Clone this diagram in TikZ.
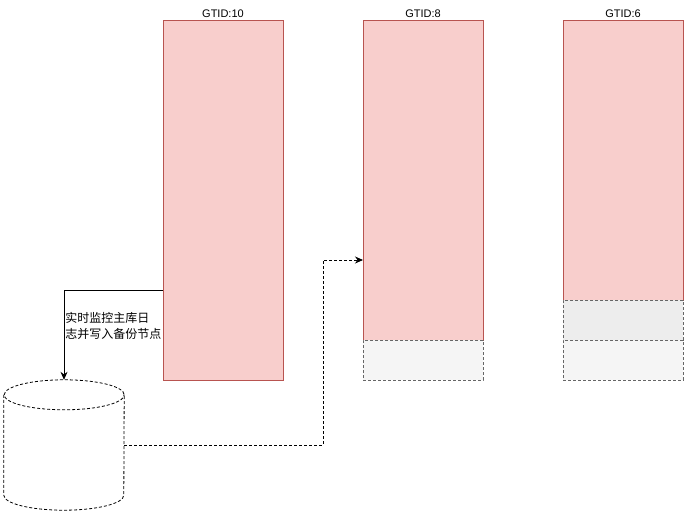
\documentclass[tikz,border=0pt]{standalone}
\usepackage{fontspec}
\setmainfont{Liberation Sans}
\newfontfamily\cjk{Noto Sans CJK SC}
\usetikzlibrary{arrows.meta,positioning}
\definecolor{barPink}{HTML}{F8CECC}
\definecolor{barRed}{HTML}{B85450}
\definecolor{slotGrey}{HTML}{F5F5F5}
\definecolor{slotDark}{HTML}{EDEDED}
\definecolor{slotLine}{HTML}{666666}
\tikzset{
  gtid/bar/.style={draw=barRed, fill=barPink, line width=0.8pt, minimum width=120pt, inner sep=0pt, outer sep=0pt, anchor=north west},
  gtid/slot/.style={draw=slotLine, fill=slotGrey, line width=0.8pt, dash pattern=on 3pt off 2pt, minimum width=120pt, minimum height=40pt, inner sep=0pt, outer sep=0pt},
  gtid/title/.style={font=\fontsize{11}{13}\selectfont, inner sep=1pt},
  gtid/db/.style={minimum width=120pt, minimum height=130pt, inner sep=0pt},
  gtid/dbline/.style={line width=0.8pt, dash pattern=on 3pt off 2pt},
  gtid/note/.style={font=\cjk\fontsize{12}{15.5}\selectfont, align=left, inner xsep=1pt, inner ysep=0pt},
  arr/.style={-{Stealth[length=8pt,width=7pt]}, line width=0.8pt}
}

\begin{document}
\begin{tikzpicture}[x=1pt, y=-1pt]
  \useasboundingbox (0,0) rectangle (687,514);

  % binlog positions on each node
  \node[gtid/bar, minimum height=360pt] (bar10) at (163,20) {};
  \node[gtid/bar, minimum height=320pt] (bar8) at (363,20) {};
  \node[gtid/bar, minimum height=280pt] (bar6) at (563,20) {};
  \node[gtid/slot, below=0pt of bar8] (slot8) {};
  \node[gtid/slot, fill=slotDark, below=0pt of bar6] (slot6a) {};
  \node[gtid/slot, below=0pt of slot6a] (slot6b) {};

  \node[gtid/title, above=1pt of bar10] (t10) {GTID:10};
  \node[gtid/title, above=1pt of bar8] (t8) {GTID:8};
  \node[gtid/title, above=1pt of bar6] (t6) {GTID:6};

  % backup store
  \node[gtid/db] (db) at (64,445) {};
  \draw[gtid/dbline] ([yshift=-15pt]db.north west) -- ([yshift=15pt]db.south west)
    arc[start angle=180, end angle=360, x radius=60pt, y radius=15pt]
    -- ([yshift=-15pt]db.north east)
    arc[start angle=0, end angle=360, x radius=60pt, y radius=15pt];

  \draw[arr] ([yshift=-90pt]bar10.west) -| (db.north)
    node[gtid/note, pos=0.7, anchor=west] (lbl) {实时监控主库日\\志并写入备份节点};
  \draw[arr, dash pattern=on 3pt off 2pt] (db.east) -- ++(199,0) |- ([yshift=-80pt]bar8.west);
\end{tikzpicture}
\end{document}
